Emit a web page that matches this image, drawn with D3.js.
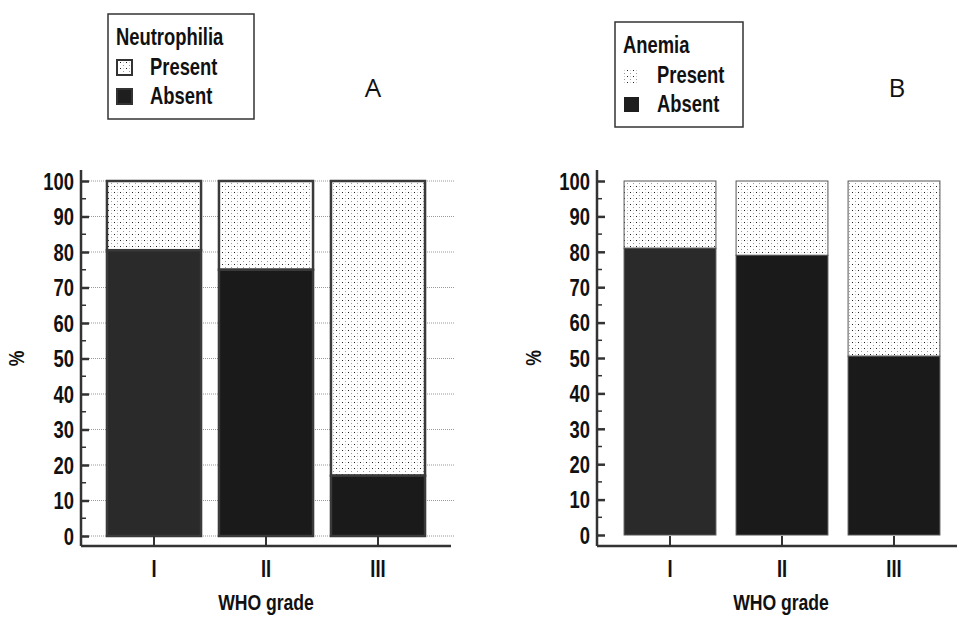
<!DOCTYPE html>
<html lang="en">
<head>
<meta charset="UTF-8">
<title>WHO grade</title>
<script src="https://d3js.org/d3.v7.min.js"></script>
<style>
    body { margin: 0; background: #fff; }
    .lbl, .tick text { font-family: "Liberation Sans", Arial, sans-serif; font-weight: bold; fill: #111; }
</style>
</head>
<body>
<svg id="chart" width="957" height="618"></svg>
<script>
var grades = ["I", "II", "III"];
var yTicks = [0, 10, 20, 30, 40, 50, 60, 70, 80, 90, 100];
// % absent per grade (present = 100 - absent)
var neutroAbsent = [80.5, 75, 17];
var anemiaAbsent = [81, 79, 50.5];
var absentColors = ["#2a2a2a", "#1a1a1a", "#1a1a1a"];

var SX = 0.8; // squeeze to mimic a narrow bold face

var svg = d3.select("#chart");

// dotted fill for "Present"
var defs = svg.append("defs");
var pat = defs.append("pattern")
    .attr("id", "dots")
    .attr("patternUnits", "userSpaceOnUse")
    .attr("width", 6).attr("height", 6);
pat.append("rect").attr("width", 6).attr("height", 6).attr("fill", "#fff");
pat.append("rect").attr("x", 0).attr("y", 0).attr("width", 1).attr("height", 1).attr("fill", "#222");
pat.append("rect").attr("x", 3).attr("y", 3).attr("width", 1).attr("height", 1).attr("fill", "#999");
pat.append("rect").attr("x", 3).attr("y", 0).attr("width", 1).attr("height", 1).attr("fill", "#ccc");

// narrow bold label at (x, y)
function label(parent, x, y, txt, size, anchor) {
    return parent.append("text").attr("class", "lbl")
        .attr("transform", "translate(" + x + "," + y + ") scale(" + SX + ",1)")
        .attr("text-anchor", anchor || "start")
        .style("font-size", size + "px")
        .text(txt);
}

function drawPanel(opt) {
    var g = svg.append("g");
    var y = d3.scaleLinear().domain([0, 100]).range([opt.y0, opt.y100]);
    var x = d3.scaleBand().domain(grades).range(opt.xRange)
        .paddingInner(opt.padIn).paddingOuter(opt.padIn / 2);

    // grid lines
    if (opt.grid) {
        g.selectAll("line.grid").data(yTicks).enter().append("line")
            .attr("class", "grid")
            .attr("x1", opt.axisX).attr("x2", opt.gridEnd)
            .attr("y1", function(d) { return y(d); })
            .attr("y2", function(d) { return y(d); })
            .attr("stroke", "#999").attr("stroke-width", 1)
            .attr("stroke-dasharray", "1,1");
    }

    // present (top) part
    g.selectAll("rect.present").data(opt.absent).enter().append("rect")
        .attr("class", "present")
        .attr("x", function(d, i) { return x(grades[i]); })
        .attr("width", x.bandwidth())
        .attr("y", y(100))
        .attr("height", function(d) { return y(d) - y(100); })
        .attr("fill", "url(#dots)")
        .attr("stroke", opt.barStroke).attr("stroke-width", opt.barStrokeW);

    // absent (bottom) part
    g.selectAll("rect.absent").data(opt.absent).enter().append("rect")
        .attr("class", "absent")
        .attr("x", function(d, i) { return x(grades[i]); })
        .attr("width", x.bandwidth())
        .attr("y", function(d) { return y(d); })
        .attr("height", function(d) { return y(0) - y(d); })
        .attr("fill", function(d, i) { return absentColors[i]; })
        .attr("stroke", opt.barStroke).attr("stroke-width", opt.barStrokeW);

    // y axis
    var yAxis = g.append("g")
        .attr("transform", "translate(" + opt.axisX + ",0)")
        .call(d3.axisLeft(y).tickValues(yTicks).tickSize(0).tickPadding(7).tickFormat(d3.format("d")));
    yAxis.select(".domain").remove();
    yAxis.selectAll(".tick line").attr("stroke", "#333").attr("stroke-width", 2.5).attr("x1", 0).attr("x2", 8);
    yAxis.selectAll(".tick text")
        .attr("x", -7 / SX).attr("dy", "0.36em")
        .attr("transform", "scale(" + SX + ",1)")
        .style("font-size", "23px");
    // minor ticks
    g.selectAll("line.minor").data(d3.range(5, 100, 10)).enter().append("line")
        .attr("x1", opt.axisX).attr("x2", opt.axisX + 5)
        .attr("y1", function(d) { return y(d); }).attr("y2", function(d) { return y(d); })
        .attr("stroke", "#333").attr("stroke-width", 1.5);
    g.append("line")
        .attr("x1", opt.axisX).attr("x2", opt.axisX)
        .attr("y1", opt.yTop).attr("y2", opt.xAxisY)
        .attr("stroke", "#333").attr("stroke-width", 2.5);

    // x axis
    var xAxis = g.append("g")
        .attr("transform", "translate(0," + opt.xAxisY + ")")
        .call(d3.axisTop(x).tickSize(0).tickPadding(0));
    xAxis.select(".domain").remove();
    xAxis.selectAll(".tick text").remove();
    xAxis.selectAll(".tick line").attr("y2", -10).attr("stroke", "#333").attr("stroke-width", 2);
    g.append("line")
        .attr("x1", opt.axisX).attr("x2", opt.xEnd)
        .attr("y1", opt.xAxisY).attr("y2", opt.xAxisY)
        .attr("stroke", "#333").attr("stroke-width", 2.5);
    grades.forEach(function(d) {
        label(g, x(d) + x.bandwidth() / 2, opt.xAxisY + 31, d, 23, "middle");
    });

    // axis titles
    label(g, opt.titleX, opt.xAxisY + 64, "WHO grade", 22, "middle");
    g.append("text").attr("class", "lbl")
        .attr("transform", "translate(" + opt.pctX + "," + (opt.y0 + opt.y100) / 2 + ") rotate(-90) scale(" + SX + ",1)")
        .attr("text-anchor", "middle").style("font-size", "22px")
        .text("%");

    // legend
    var lg = g.append("g").attr("transform", "translate(" + opt.legX + "," + opt.legY + ")");
    lg.append("rect").attr("width", opt.legW).attr("height", 105)
        .attr("fill", "#fff").attr("stroke", "#333").attr("stroke-width", 1.5);
    label(lg, 8, 31, opt.legTitle, 23);
    var items = [{ name: "Present", fill: "url(#dots)" }, { name: "Absent", fill: "#1e1e1e" }];
    items.forEach(function(d, i) {
        var yy = 61 + i * 29;
        lg.append("rect").attr("x", 9).attr("y", yy - 15).attr("width", 15).attr("height", 15)
            .attr("fill", d.fill)
            .attr("stroke", opt.legSwatchStroke).attr("stroke-width", 2);
        label(lg, 42, yy, d.name, 23);
    });

    // panel letter
    g.append("text").attr("x", opt.letterX).attr("y", 97)
        .attr("text-anchor", "middle")
        .style("font-family", "'Open Sans', sans-serif").style("font-size", "26px").style("fill", "#111")
        .text(opt.letter);
}

drawPanel({
    absent: neutroAbsent, grid: true, gridEnd: 455,
    axisX: 81, xRange: [98, 434], padIn: 0.16, xEnd: 451, yTop: 170, xAxisY: 546,
    y0: 536, y100: 181, barStroke: "#3a3a3a", barStrokeW: 2.5,
    titleX: 266, pctX: 24,
    legX: 108, legY: 14, legW: 146, legTitle: "Neutrophilia", legSwatchStroke: "#333",
    letter: "A", letterX: 373
});

drawPanel({
    absent: anemiaAbsent, grid: false,
    axisX: 597, xRange: [614, 950], padIn: 0.18, xEnd: 957, yTop: 170, xAxisY: 546,
    y0: 535, y100: 181, barStroke: "#555", barStrokeW: 1,
    titleX: 781, pctX: 541,
    legX: 615, legY: 22, legW: 128, legTitle: "Anemia", legSwatchStroke: "none",
    letter: "B", letterX: 897
});
</script>
</body>
</html>
